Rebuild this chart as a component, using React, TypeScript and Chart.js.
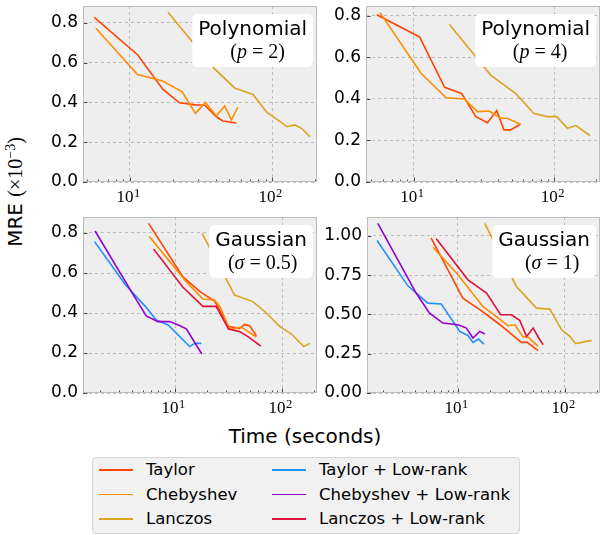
import React, { useEffect, useRef } from 'react';
import { Chart, registerables } from 'chart.js';
Chart.register(...registerables);

const FONT_SANS = "'DejaVu Sans', sans-serif";
const FONT_SERIF = "'Liberation Serif', 'DejaVu Serif', serif";

const methodNames = ['Taylor', 'Chebyshev', 'Lanczos', 'Taylor + Low-rank', 'Chebyshev + Low-rank', 'Lanczos + Low-rank'];
const methodColors = ['#ff4500', '#ff8c00', '#daa520', '#1e90ff', '#9400d3', '#dc143c'];

// Panel 1: Polynomial p=2
const p1TaylorX = [5.6, 11.3, 17.0, 22.3, 28.9, 33.5, 40.5, 45.1, 56];
const p1TaylorY = [0.828, 0.64, 0.467, 0.398, 0.388, 0.387, 0.328, 0.307, 0.297];
const p1ChebX = [5.75, 11.3, 17.0, 23.3, 28.9, 34.0, 40.5, 46.4, 51.6, 57.5];
const p1ChebY = [0.773, 0.54, 0.508, 0.453, 0.345, 0.4, 0.332, 0.382, 0.312, 0.377];
const p1LancX = [18.5, 39.4, 54.5, 73.4, 91.2, 127.6, 144.5, 161, 184.5];
const p1LancY = [0.853, 0.569, 0.473, 0.44, 0.353, 0.278, 0.287, 0.27, 0.228];

// Panel 2: Polynomial p=4
const p2TaylorX = [5.45, 11.0, 16.6, 21.9, 27.7, 33.5, 39.0, 43.9, 48.9, 57.5];
const p2TaylorY = [0.806, 0.699, 0.456, 0.427, 0.315, 0.286, 0.344, 0.251, 0.251, 0.278];
const p2ChebX = [5.75, 11.3, 17.0, 22.9, 28.4, 34.4, 41.6, 46.4, 57.5];
const p2ChebY = [0.816, 0.523, 0.406, 0.4, 0.339, 0.342, 0.307, 0.307, 0.278];
const p2LancX = [17.9, 35.3, 53.1, 71.5, 88.8, 104.4, 124.2, 143, 179.5];
const p2LancY = [0.76, 0.515, 0.427, 0.331, 0.315, 0.315, 0.259, 0.272, 0.224];

// Panel 3: Gaussian sigma=0.5
const p3TaylorX = [5.66, 11.8, 17.1, 23.4, 31.8, 40.1, 44.7, 49.8, 57.5];
const p3TaylorY = [0.848, 0.582, 0.507, 0.46, 0.332, 0.323, 0.343, 0.337, 0.287];
const p3ChebX = [5.74, 12.7, 18.2, 23.4, 26.4, 32.3, 41.6, 57.5];
const p3ChebY = [0.782, 0.557, 0.47, 0.465, 0.43, 0.318, 0.33, 0.28];
const p3LancX = [17.9, 36, 53.5, 71.3, 95, 122.3, 159.6, 181.6];
const p3LancY = [0.798, 0.49, 0.457, 0.4, 0.333, 0.295, 0.232, 0.248];
const p3TlrX = [1.77, 3.45, 5.3, 6.68, 8.6, 10.7, 13.7, 15.3, 17.6];
const p3TlrY = [0.757, 0.54, 0.432, 0.365, 0.34, 0.29, 0.232, 0.248, 0.248];
const p3ClrX = [1.79, 4.0, 5.38, 6.93, 8.9, 11.0, 12.8, 14.2, 17.8];
const p3ClrY = [0.81, 0.498, 0.385, 0.357, 0.357, 0.337, 0.32, 0.28, 0.195];
const p3LlrX = [6.3, 11.8, 18.2, 24.2, 31.6, 40.1, 48, 63.1];
const p3LlrY = [0.72, 0.53, 0.433, 0.433, 0.32, 0.307, 0.282, 0.235];

// Panel 4: Gaussian sigma=1
const p4TaylorX = [5.62, 11.1, 16.0, 24.6, 31.6, 39.2, 44.4, 56.2];
const p4TaylorY = [0.985, 0.604, 0.53, 0.436, 0.375, 0.322, 0.322, 0.269];
const p4ChebX = [5.84, 10.0, 17.1, 29.4, 34.0, 40.6, 45.3, 56.2];
const p4ChebY = [0.928, 0.752, 0.551, 0.428, 0.434, 0.356, 0.356, 0.297];
const p4LancX = [17.8, 35.2, 54.2, 72.3, 93.1, 111.5, 126, 177.8];
const p4LancY = [1.08, 0.678, 0.54, 0.534, 0.402, 0.36, 0.314, 0.335];
const p4TlrX = [1.75, 3.4, 5.23, 6.98, 10.4, 12.4, 13.8, 15.6, 17.5];
const p4TlrY = [0.97, 0.682, 0.572, 0.566, 0.392, 0.366, 0.322, 0.343, 0.311];
const p4ClrX = [1.78, 4.06, 5.42, 7.23, 10.0, 12.0, 13.8, 16.0, 17.8];
const p4ClrY = [1.08, 0.636, 0.508, 0.445, 0.434, 0.413, 0.35, 0.392, 0.375];
const p4LlrX = [6.27, 12.4, 18.5, 25.1, 31.6, 37.8, 43.8, 50.5, 58.3, 62.7];
const p4LlrY = [0.981, 0.72, 0.636, 0.498, 0.498, 0.462, 0.36, 0.413, 0.339, 0.307];

const xTickValues = [10, 100];

type Piece = [string, boolean];

const panels = [
  {
    title: 'Polynomial', math: [['(', false], ['p', true], [' = ', false], ['2', false], [')', false]] as Piece[], mathDx: 5,
    series: [[p1TaylorX, p1TaylorY, 0], [p1ChebX, p1ChebY, 1], [p1LancX, p1LancY, 2]],
    left: 30, top: 0, w: 290, h: 210, padTop: 6, padRight: 3, yWidth: 53, xHeight: 28,
    xMin: 4.67, xMax: 207, yMax: 0.885, step: 0.2, dec: 1,
  },
  {
    title: 'Polynomial', math: [['(', false], ['p', true], [' = ', false], ['4', false], [')', false]] as Piece[], mathDx: 4.5,
    series: [[p2TaylorX, p2TaylorY, 0], [p2ChebX, p2ChebY, 1], [p2LancX, p2LancY, 2]],
    left: 320, top: 0, w: 281, h: 210, padTop: 6, padRight: 1, yWidth: 46, xHeight: 28,
    xMin: 4.57, xMax: 212, yMax: 0.848, step: 0.2, dec: 1,
  },
  {
    title: 'Gaussian', math: [['(', false], ['\u03c3', true], [' = ', false], ['0.5', false], [')', false]] as Piece[], mathDx: 1.5,
    series: [[p3TaylorX, p3TaylorY, 0], [p3ChebX, p3ChebY, 1], [p3LancX, p3LancY, 2], [p3TlrX, p3TlrY, 3], [p3ClrX, p3ClrY, 4], [p3LlrX, p3LlrY, 5]],
    left: 30, top: 210, w: 290, h: 210, padTop: 7, padRight: 3, yWidth: 53, xHeight: 27,
    xMin: 1.38, xMax: 212, yMax: 0.88, step: 0.2, dec: 1,
  },
  {
    title: 'Gaussian', math: [['(', false], ['\u03c3', true], [' = ', false], ['1', false], [')', false]] as Piece[], mathDx: 8,
    series: [[p4TaylorX, p4TaylorY, 0], [p4ChebX, p4ChebY, 1], [p4LancX, p4LancY, 2], [p4TlrX, p4TlrY, 3], [p4ClrX, p4ClrY, 4], [p4LlrX, p4LlrY, 5]],
    left: 320, top: 210, w: 281, h: 210, padTop: 7, padRight: 1, yWidth: 47, xHeight: 27,
    xMin: 1.41, xMax: 213, yMax: 1.12, step: 0.25, dec: 2,
  },
];

function makePlugin(panel: any) {
  return {
    id: 'panelDeco',
    beforeDraw(chart: any) {
      const { ctx, chartArea: a } = chart;
      ctx.save();
      ctx.fillStyle = '#eeeeee';
      ctx.fillRect(a.left, a.top, a.right - a.left, a.bottom - a.top);
      ctx.restore();
    },
    afterDatasetsDraw(chart: any) {
      const { ctx, chartArea: a, scales } = chart;
      const xs = scales.x, ys = scales.y;
      ctx.save();
      ctx.strokeStyle = '#222';
      ctx.lineWidth = 0.8;
      for (let n = -1; n <= 3; n++) {
        for (let k = 1; k <= 9; k++) {
          const v = k * Math.pow(10, n);
          if (v < xs.min || v > xs.max) continue;
          const px = Math.round(xs.getPixelForValue(v)) + 0.5;
          const len = k === 1 ? 4.5 : 2.5;
          ctx.beginPath();
          ctx.moveTo(px, a.bottom);
          ctx.lineTo(px, a.bottom - len);
          ctx.stroke();
        }
      }
      ys.ticks.forEach((t: any) => {
        const py = Math.round(ys.getPixelForValue(t.value)) + 0.5;
        ctx.beginPath();
        ctx.moveTo(a.left, py);
        ctx.lineTo(a.left + 4.5, py);
        ctx.stroke();
      });
      ctx.strokeStyle = '#bcbcbc';
      ctx.lineWidth = 1;
      ctx.strokeRect(Math.round(a.left) + 0.5, Math.round(a.top) + 0.5, Math.round(a.right - a.left) - 1, Math.round(a.bottom - a.top) - 1);
      const size = 20;
      ctx.font = `${size}px ${FONT_SANS}`;
      const w1 = ctx.measureText(panel.title).width;
      const fonts = panel.math.map((p: Piece) => `${p[1] ? 'italic ' : ''}${size}px ${FONT_SERIF}`);
      let w2 = 0;
      const widths = panel.math.map((p: Piece, i: number) => {
        ctx.font = fonts[i];
        const w = ctx.measureText(p[0]).width;
        w2 += w;
        return w;
      });
      const bw = Math.max(w1, w2) + 12;
      const bh = 53;
      const bx = a.right - 4 - bw;
      const by = a.top + 8;
      ctx.fillStyle = '#ffffff';
      ctx.beginPath();
      ctx.roundRect(bx, by, bw, bh, 5);
      ctx.fill();
      const cx = bx + bw / 2;
      ctx.fillStyle = '#000';
      ctx.textBaseline = 'alphabetic';
      ctx.textAlign = 'center';
      ctx.font = `${size}px ${FONT_SANS}`;
      ctx.fillText(panel.title, cx, by + 20.5);
      let x = cx + panel.mathDx - w2 / 2;
      ctx.textAlign = 'left';
      panel.math.forEach((p: Piece, i: number) => {
        ctx.font = fonts[i];
        ctx.fillText(p[0], x, by + 44);
        x += widths[i];
      });
      ctx.restore();
    },
    afterDraw(chart: any) {
      const { ctx, chartArea: a, scales } = chart;
      const xs = scales.x;
      ctx.save();
      ctx.fillStyle = '#000';
      ctx.textBaseline = 'alphabetic';
      xs.ticks.forEach((t: any) => {
        const px = xs.getPixelForValue(t.value);
        const e = Math.round(Math.log10(t.value));
        ctx.font = `17px ${FONT_SERIF}`;
        ctx.textAlign = 'right';
        ctx.fillText('10', px + 3.5, a.bottom + 19.7);
        ctx.font = `12.5px ${FONT_SERIF}`;
        ctx.textAlign = 'left';
        ctx.fillText(String(e), px + 4, a.bottom + 15);
      });
      ctx.restore();
    },
  };
}

function buildConfig(panel: any): any {
  const datasets = panel.series.map((s: any) => {
    const xs = s[0] as number[];
    const ys = s[1] as number[];
    const idx = s[2] as number;
    return {
      label: methodNames[idx],
      data: xs.map((x, i) => ({ x, y: ys[i] })),
      borderColor: methodColors[idx],
      backgroundColor: methodColors[idx],
      borderWidth: 1.6,
      pointRadius: 0,
      fill: false,
      tension: 0,
      order: -idx,
    };
  });
  const gridOpts = { color: '#b2b2b2', lineWidth: 0.8, drawTicks: false };
  return {
    type: 'line',
    data: { datasets },
    options: {
      animation: false,
      responsive: false,
      maintainAspectRatio: false,
      devicePixelRatio: 1,
      layout: { padding: { top: panel.padTop, right: panel.padRight, left: 0, bottom: 0 } },
      plugins: { legend: { display: false }, tooltip: { enabled: false }, title: { display: false } },
      scales: {
        x: {
          type: 'logarithmic',
          min: panel.xMin,
          max: panel.xMax,
          afterBuildTicks: (s: any) => { s.ticks = xTickValues.map((v) => ({ value: v, major: true })); },
          ticks: { display: false },
          grid: gridOpts,
          border: { display: false, dash: [3, 3] },
          afterFit: (s: any) => { s.height = panel.xHeight; s.paddingLeft = 0; s.paddingRight = 0; s.paddingTop = 0; s.paddingBottom = 0; },
        },
        y: {
          type: 'linear',
          min: 0,
          max: panel.yMax,
          ticks: {
            stepSize: panel.step,
            includeBounds: false,
            padding: 5,
            color: '#000',
            font: { family: FONT_SANS, size: 17 },
            callback: (v: any) => Number(v).toFixed(panel.dec),
          },
          grid: gridOpts,
          border: { display: false, dash: [3, 3] },
          afterFit: (s: any) => { s.width = panel.yWidth; s.paddingTop = 0; s.paddingBottom = 0; s.paddingLeft = 0; s.paddingRight = 0; },
        },
      },
    },
    plugins: [makePlugin(panel)],
  };
}

function Panel({ panel }: { panel: any }) {
  const ref = useRef<HTMLCanvasElement>(null);
  useEffect(() => {
    const chart = new Chart(ref.current as HTMLCanvasElement, buildConfig(panel));
    return () => chart.destroy();
  }, [panel]);
  return (
    <canvas
      ref={ref}
      width={panel.w}
      height={panel.h}
      style={{ position: 'absolute', left: panel.left, top: panel.top, width: panel.w, height: panel.h }}
    />
  );
}

const legendRows = [[0, 3], [1, 4], [2, 5]];

export default function App() {
  return (
    <div style={{ position: 'fixed', left: 0, top: 0, width: 601, height: 535, background: '#fff', overflow: 'hidden' }}>
      {panels.map((p, i) => <Panel key={i} panel={p} />)}
      <div
        style={{
          position: 'absolute', left: 15, top: 192, transform: 'translate(-50%, -50%) rotate(-90deg)',
          whiteSpace: 'nowrap', fontFamily: FONT_SANS, fontSize: 20, color: '#000', lineHeight: '22px',
        }}
      >
        MRE <span style={{ fontFamily: FONT_SERIF }}>(×10<sup style={{ fontSize: 14, verticalAlign: '0.5em', lineHeight: 0 }}>−3</sup>)</span>
      </div>
      <div
        style={{
          position: 'absolute', left: 305, top: 436, transform: 'translate(-50%, -50%)',
          whiteSpace: 'nowrap', fontFamily: FONT_SANS, fontSize: 20, color: '#000', lineHeight: '22px',
        }}
      >
        Time (seconds)
      </div>
      <div
        style={{
          position: 'absolute', left: 92, top: 457, width: 428, height: 77, boxSizing: 'border-box',
          background: '#f1f1f1', border: '1px solid #d6d6d6', borderRadius: 4,
        }}
      />
      {legendRows.map((row, r) =>
        row.map((idx, c) => {
          const cy = 470 + r * 24.5;
          const lx = c === 0 ? 99 : 272;
          const tx = c === 0 ? 146 : 319;
          return (
            <React.Fragment key={`${r}-${c}`}>
              <div style={{ position: 'absolute', left: lx, top: cy - 0.75, width: 34, height: 1.5, background: methodColors[idx] }} />
              <div
                style={{
                  position: 'absolute', left: tx, top: cy - 10, height: 20, lineHeight: '20px',
                  fontFamily: FONT_SANS, fontSize: 16.5, color: '#000', whiteSpace: 'nowrap',
                }}
              >
                {methodNames[idx]}
              </div>
            </React.Fragment>
          );
        })
      )}
    </div>
  );
}
